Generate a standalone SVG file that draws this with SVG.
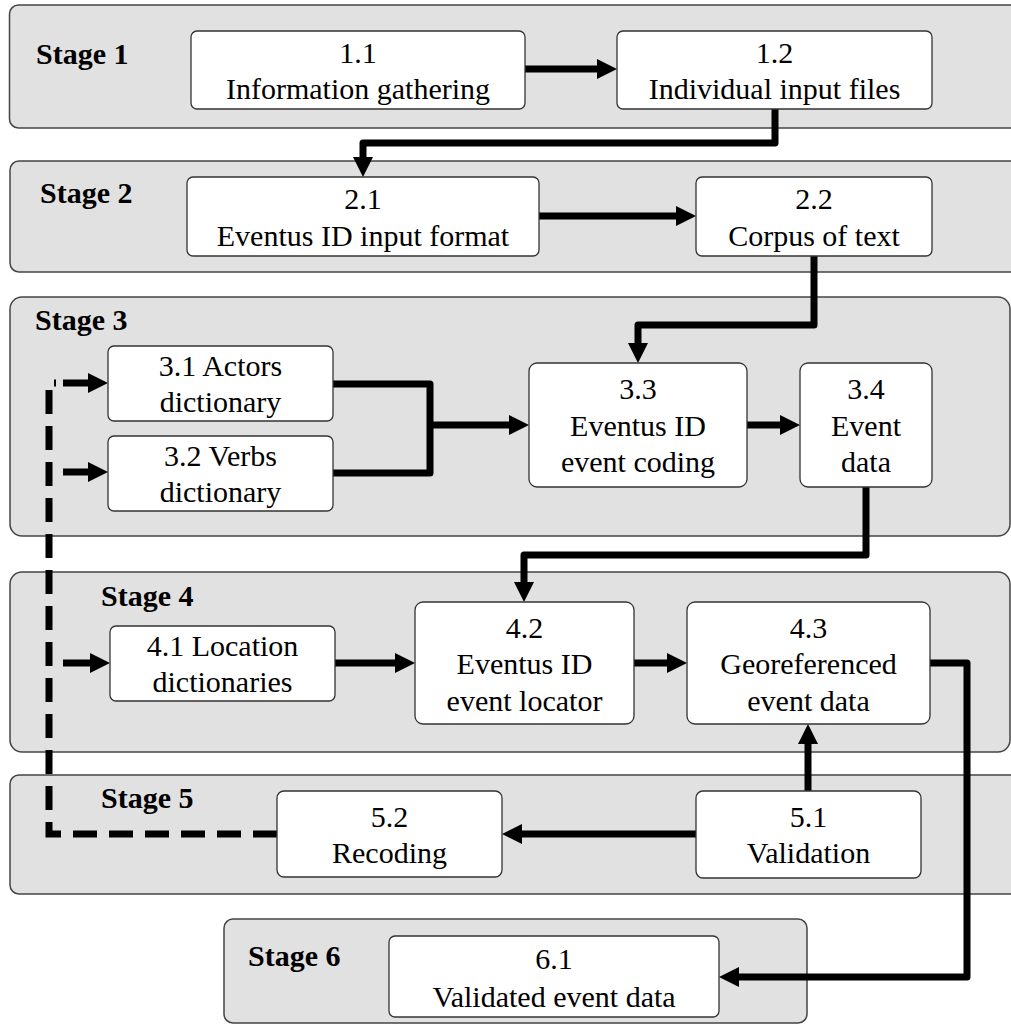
<svg xmlns="http://www.w3.org/2000/svg" width="1011" height="1025" viewBox="0 0 1011 1025">
<defs>
<marker id="ah" markerUnits="userSpaceOnUse" markerWidth="20" markerHeight="20" refX="2" refY="10" orient="auto" viewBox="0 0 20 20"><path d="M0,0 L20,10 L0,20 Z" fill="#000"/></marker>
</defs>
<style>
.stage{fill:#e1e1e1;stroke:#444;stroke-width:1.5}
.node{fill:#fff;stroke:#333;stroke-width:1.3}
.lbl{font-family:"Liberation Serif","Times New Roman",serif;font-size:30px;font-weight:bold;fill:#000}
.t{font-family:"Liberation Serif","Times New Roman",serif;font-size:30px;fill:#000;text-anchor:middle}
.c{fill:none;stroke:#000;stroke-width:7;stroke-linejoin:round}
.d{fill:none;stroke:#000;stroke-width:7;stroke-dasharray:24 12}
</style>
<rect width="1011" height="1025" fill="#fff"/>
<g id="stages">
<g id="stage1"><rect class="stage" x="9.5" y="5" width="1012" height="123" rx="9"/><text class="lbl" x="36" y="64">Stage 1</text></g>
<g id="stage2"><rect class="stage" x="10" y="161" width="1012" height="111" rx="9"/><text class="lbl" x="40" y="203">Stage 2</text></g>
<g id="stage3"><rect class="stage" x="10" y="297" width="1000" height="239" rx="12"/><text class="lbl" x="35" y="330">Stage 3</text></g>
<g id="stage4"><rect class="stage" x="10" y="572" width="1000" height="180" rx="12"/><text class="lbl" x="101" y="606">Stage 4</text></g>
<g id="stage5"><rect class="stage" x="10" y="775" width="1012" height="119" rx="9"/><text class="lbl" x="101" y="808">Stage 5</text></g>
<g id="stage6"><rect class="stage" x="224" y="919" width="583" height="104" rx="9"/><text class="lbl" x="248" y="966">Stage 6</text></g>
</g>
<g id="connectors">
<path class="c" d="M525,69 H599" marker-end="url(#ah)"/>
<path class="c" d="M775,109 V143 H363 V159" marker-end="url(#ah)"/>
<path class="c" d="M539,216 H678" marker-end="url(#ah)"/>
<path class="c" d="M814,256 V325 H638 V345" marker-end="url(#ah)"/>
<path class="c" d="M333,384 H430 V473 H333"/>
<path class="c" d="M430,425 H511" marker-end="url(#ah)"/>
<path class="c" d="M747,425 H782" marker-end="url(#ah)"/>
<path class="c" d="M866,487 V555 H524 V584" marker-end="url(#ah)"/>
<path class="c" d="M335,663 H397" marker-end="url(#ah)"/>
<path class="c" d="M634,663 H669" marker-end="url(#ah)"/>
<path class="c" d="M930,663 H967 V977 H737" marker-end="url(#ah)"/>
<path class="c" d="M808,791 V742" marker-end="url(#ah)"/>
<path class="c" d="M696,834 H520" marker-end="url(#ah)"/>
<path class="d" d="M277,834 H49 V383 H56"/>
<path class="c" d="M63,383 H90" marker-end="url(#ah)"/>
<path class="c" d="M63,472 H90" marker-end="url(#ah)"/>
<path class="c" d="M63,663 H92" marker-end="url(#ah)"/>
</g>
<g id="n11"><rect class="node" x="191" y="31" width="334" height="78" rx="6"/><text class="t" x="358" y="63">1.1</text><text class="t" x="358" y="99">Information gathering</text></g>
<g id="n12"><rect class="node" x="617" y="31" width="315" height="78" rx="6"/><text class="t" x="774.5" y="63">1.2</text><text class="t" x="774.5" y="99">Individual input files</text></g>
<g id="n21"><rect class="node" x="187" y="177" width="352" height="79" rx="6"/><text class="t" x="363" y="209">2.1</text><text class="t" x="363" y="246">Eventus ID input format</text></g>
<g id="n22"><rect class="node" x="696" y="177" width="236" height="79" rx="6"/><text class="t" x="814" y="209">2.2</text><text class="t" x="814" y="246">Corpus of text</text></g>
<g id="n31"><rect class="node" x="108" y="346" width="225" height="75" rx="6"/><text class="t" x="220.5" y="376">3.1 Actors</text><text class="t" x="220.5" y="412">dictionary</text></g>
<g id="n32"><rect class="node" x="108" y="436" width="225" height="75" rx="6"/><text class="t" x="220.5" y="466">3.2 Verbs</text><text class="t" x="220.5" y="502">dictionary</text></g>
<g id="n33"><rect class="node" x="529" y="363" width="218" height="124" rx="8"/><text class="t" x="638" y="399">3.3</text><text class="t" x="638" y="436">Eventus ID</text><text class="t" x="638" y="472">event coding</text></g>
<g id="n34"><rect class="node" x="800" y="363" width="132" height="124" rx="8"/><text class="t" x="866" y="399">3.4</text><text class="t" x="866" y="436">Event</text><text class="t" x="866" y="472">data</text></g>
<g id="n41"><rect class="node" x="110" y="626" width="225" height="75" rx="6"/><text class="t" x="222.5" y="656">4.1 Location</text><text class="t" x="222.5" y="692">dictionaries</text></g>
<g id="n42"><rect class="node" x="415" y="602" width="219" height="122" rx="8"/><text class="t" x="524.5" y="638">4.2</text><text class="t" x="524.5" y="674">Eventus ID</text><text class="t" x="524.5" y="711">event locator</text></g>
<g id="n43"><rect class="node" x="687" y="602" width="243" height="122" rx="8"/><text class="t" x="808.5" y="638">4.3</text><text class="t" x="808.5" y="674">Georeferenced</text><text class="t" x="808.5" y="711">event data</text></g>
<g id="n51"><rect class="node" x="696" y="791" width="225" height="87" rx="7"/><text class="t" x="808.5" y="827">5.1</text><text class="t" x="808.5" y="863">Validation</text></g>
<g id="n52"><rect class="node" x="277" y="791" width="225" height="86" rx="7"/><text class="t" x="389.5" y="827">5.2</text><text class="t" x="389.5" y="863">Recoding</text></g>
<g id="n61"><rect class="node" x="389" y="936" width="330" height="81" rx="6"/><text class="t" x="554" y="969">6.1</text><text class="t" x="554" y="1007">Validated event data</text></g>
</svg>
